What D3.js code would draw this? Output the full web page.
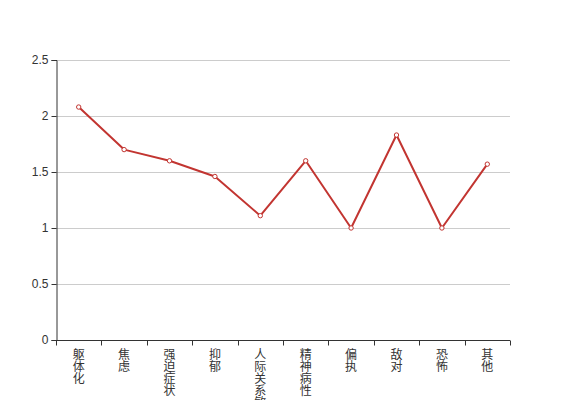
<!DOCTYPE html>
<html>
<head>
<meta charset="utf-8">
<script src="https://cdn.jsdelivr.net/npm/d3@7"></script>
<style>
  body { margin: 0; background: #fff; }
  text { font-family: "Liberation Sans", "Noto Sans CJK SC", sans-serif; font-size: 12px; fill: #333; }
</style>
</head>
<body>
<svg id="chart"></svg>
<script>
// dados
var categories = ["躯体化", "焦虑", "强迫症状", "抑郁", "人际关系敏感", "精神病性", "偏执", "敌对", "恐怖", "其他"];
var values = [2.08, 1.7, 1.6, 1.46, 1.11, 1.6, 1.0, 1.83, 1.0, 1.57];
var yTicks = [0, 0.5, 1, 1.5, 2, 2.5];

var width = 567, height = 400;
var margin = {top: 60, right: 57, bottom: 60, left: 56};
var innerWidth = width - margin.left - margin.right;
var innerHeight = height - margin.top - margin.bottom;

var svg = d3.select("#chart")
  .attr("width", width)
  .attr("height", height);

var g = svg.append("g")
  .attr("transform", "translate(" + margin.left + "," + margin.top + ")");

var x = d3.scaleBand().domain(categories).range([0, innerWidth]);
var y = d3.scaleLinear().domain([0, 2.5]).range([innerHeight, 0]);

// linhas de grade
g.append("g").selectAll("line")
  .data(yTicks.filter(function(d) { return d > 0; }))
  .enter().append("line")
  .attr("x1", 0).attr("x2", innerWidth)
  .attr("y1", function(d) { return Math.round(y(d)) + 0.5; })
  .attr("y2", function(d) { return Math.round(y(d)) + 0.5; })
  .style("stroke", "#ccc");

// eixo y
var yAxisG = g.append("g")
  .attr("transform", "translate(0.5,0)")
  .call(d3.axisLeft(y).tickValues(yTicks).tickSize(5).tickPadding(3).tickFormat(d3.format("")));
yAxisG.select(".domain").style("stroke", "#333");
yAxisG.selectAll(".tick line").style("stroke", "#333");
yAxisG.selectAll("text").style("font-size", "12px").style("fill", "#333");

// eixo x
var xAxisG = g.append("g")
  .attr("transform", "translate(0," + (innerHeight + 0.5) + ")");
xAxisG.append("line")
  .attr("x1", 0).attr("x2", innerWidth)
  .style("stroke", "#333");
xAxisG.selectAll(".xtick")
  .data(d3.range(categories.length + 1))
  .enter().append("line")
  .attr("x1", function(i) { return Math.round(i * x.bandwidth()) + 0.5; })
  .attr("x2", function(i) { return Math.round(i * x.bandwidth()) + 0.5; })
  .attr("y1", 0).attr("y2", 5)
  .style("stroke", "#333");

var labels = xAxisG.selectAll(".xlabel")
  .data(categories)
  .enter().append("text")
  .attr("class", "xlabel")
  .attr("text-anchor", "middle")
  .attr("transform", function(d) { return "translate(" + (x(d) + x.bandwidth() / 2) + ",0)"; });
labels.selectAll("tspan")
  .data(function(d) { return d.split(""); })
  .enter().append("tspan")
  .attr("x", 0)
  .attr("y", function(c, i) { return 18 + i * 12; })
  .text(function(c) { return c; });

// linha
var line = d3.line()
  .x(function(d, i) { return x(categories[i]) + x.bandwidth() / 2; })
  .y(function(d) { return y(d); });

g.append("path")
  .datum(values)
  .attr("d", line)
  .style("fill", "none")
  .style("stroke", "#c23531")
  .style("stroke-width", 2)
  .style("stroke-linejoin", "round");

g.selectAll(".dot")
  .data(values)
  .enter().append("circle")
  .attr("cx", function(d, i) { return x(categories[i]) + x.bandwidth() / 2; })
  .attr("cy", function(d) { return y(d); })
  .attr("r", 2.2)
  .style("fill", "#fff")
  .style("stroke", "#c23531")
  .style("stroke-width", 1);
</script>
</body>
</html>
